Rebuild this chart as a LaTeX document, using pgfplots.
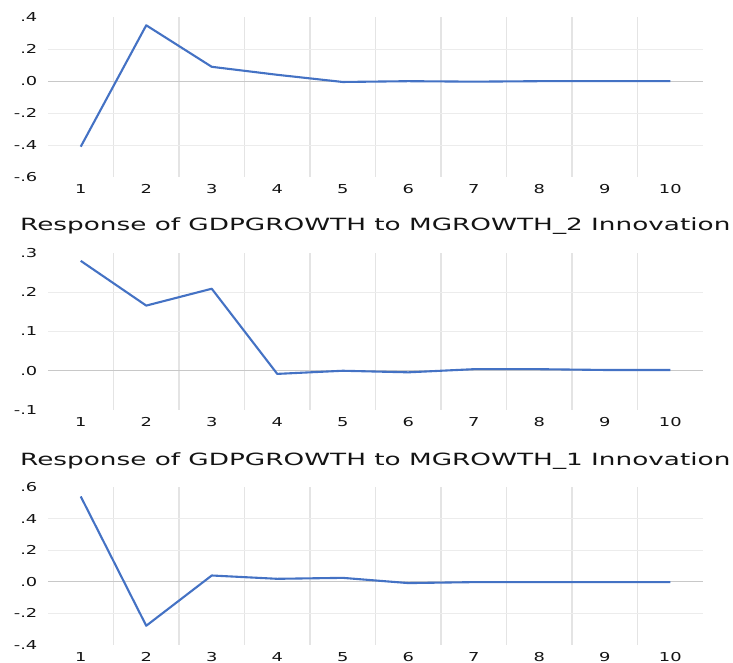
\documentclass[border=0pt]{standalone}
\usepackage{fontspec}
\setmainfont{DejaVu Sans}
\newfontfamily\tickfont[FakeStretch=1.45]{DejaVu Sans}
\usepackage{graphicx}
\usepackage{pgfplots}
\pgfplotsset{compat=1.18}
\definecolor{excelblue}{RGB}{68,114,196}
\definecolor{gridv}{RGB}{228,228,228}
\definecolor{gridh}{RGB}{236,236,236}
\definecolor{zeroline}{RGB}{200,200,200}
\definecolor{txt}{RGB}{20,20,20}

\pgfplotsset{irf/.style={
  scale only axis, width=655pt, anchor=north west,
  xmin=0.5, xmax=10.5,
  axis line style={draw=none},
  xtick={1,2,3,4,5,6,7,8,9,10},
  xticklabels={1,2,3,4,5,6,7,8,9,10},
  minor xtick={1.5,2.5,3.5,4.5,5.5,6.5,7.5,8.5,9.5},
  xminorgrids=true,
  minor grid style={gridv, line width=1.5pt},
  ymajorgrids=true,
  major grid style={gridh, line width=1.1pt},
  major tick length=0pt, minor tick length=0pt,
  tick style={draw=none},
  xticklabel style={font=\tickfont\fontsize{12.3}{13}\selectfont, text=txt, inner sep=0pt, anchor=north, yshift=-7pt},
  yticklabel style={font=\tickfont\fontsize{12.3}{13}\selectfont, text=txt, inner sep=0pt, anchor=east, xshift=-10.5pt},
  extra y tick style={grid=none},
  clip=false,
}}

\begin{document}
\begin{tikzpicture}[x=1pt,y=1pt]
\path[use as bounding box] (0,0) rectangle (733,-662);

% Panel 1
\begin{axis}[irf, at={(48pt,-17.3pt)}, height=159.7pt,
  ymin=-0.6, ymax=0.4,
  ytick={-0.4,-0.2,0,0.2}, yticklabels={-.4,-.2,.0,.2},
  extra y ticks={-0.6,0.4}, extra y tick labels={-.6,.4}]
\draw[zeroline, line width=1.2pt] (axis cs:0.5,0) -- (axis cs:10.5,0);
\addplot[excelblue, line width=2.1pt, line join=round] coordinates {
(1,-0.41) (2,0.35) (3,0.09) (4,0.04) (5,-0.005) (6,0.0) (7,-0.003) (8,0.0) (9,0.0) (10,0.0)};
\end{axis}

\node[anchor=base west, inner sep=0pt, text=txt] at (20,-230.7) {\resizebox{710pt}{12.8pt}{Response of GDPGROWTH to MGROWTH\_2 Innovation}};

% Panel 2
\begin{axis}[irf, at={(48pt,-253pt)}, height=157pt,
  ymin=-0.1, ymax=0.3,
  ytick={0,0.1,0.2}, yticklabels={.0,.1,.2},
  extra y ticks={-0.1,0.3}, extra y tick labels={-.1,.3}]
\draw[zeroline, line width=1.2pt] (axis cs:0.5,0) -- (axis cs:10.5,0);
\addplot[excelblue, line width=2.1pt, line join=round] coordinates {
(1,0.28) (2,0.166) (3,0.209) (4,-0.008) (5,0.0) (6,-0.004) (7,0.004) (8,0.004) (9,0.002) (10,0.002)};
\end{axis}

\node[anchor=base west, inner sep=0pt, text=txt] at (20,-465.7) {\resizebox{710pt}{12.8pt}{Response of GDPGROWTH to MGROWTH\_1 Innovation}};

% Panel 3
\begin{axis}[irf, at={(48pt,-487pt)}, height=158pt,
  ymin=-0.4, ymax=0.6,
  ytick={-0.2,0,0.2,0.4}, yticklabels={-.2,.0,.2,.4},
  extra y ticks={-0.4,0.6}, extra y tick labels={-.4,.6}]
\draw[zeroline, line width=1.2pt] (axis cs:0.5,0) -- (axis cs:10.5,0);
\addplot[excelblue, line width=2.1pt, line join=round] coordinates {
(1,0.54) (2,-0.278) (3,0.04) (4,0.019) (5,0.025) (6,-0.008) (7,-0.002) (8,-0.002) (9,-0.002) (10,-0.002)};
\end{axis}
\end{tikzpicture}
\end{document}
